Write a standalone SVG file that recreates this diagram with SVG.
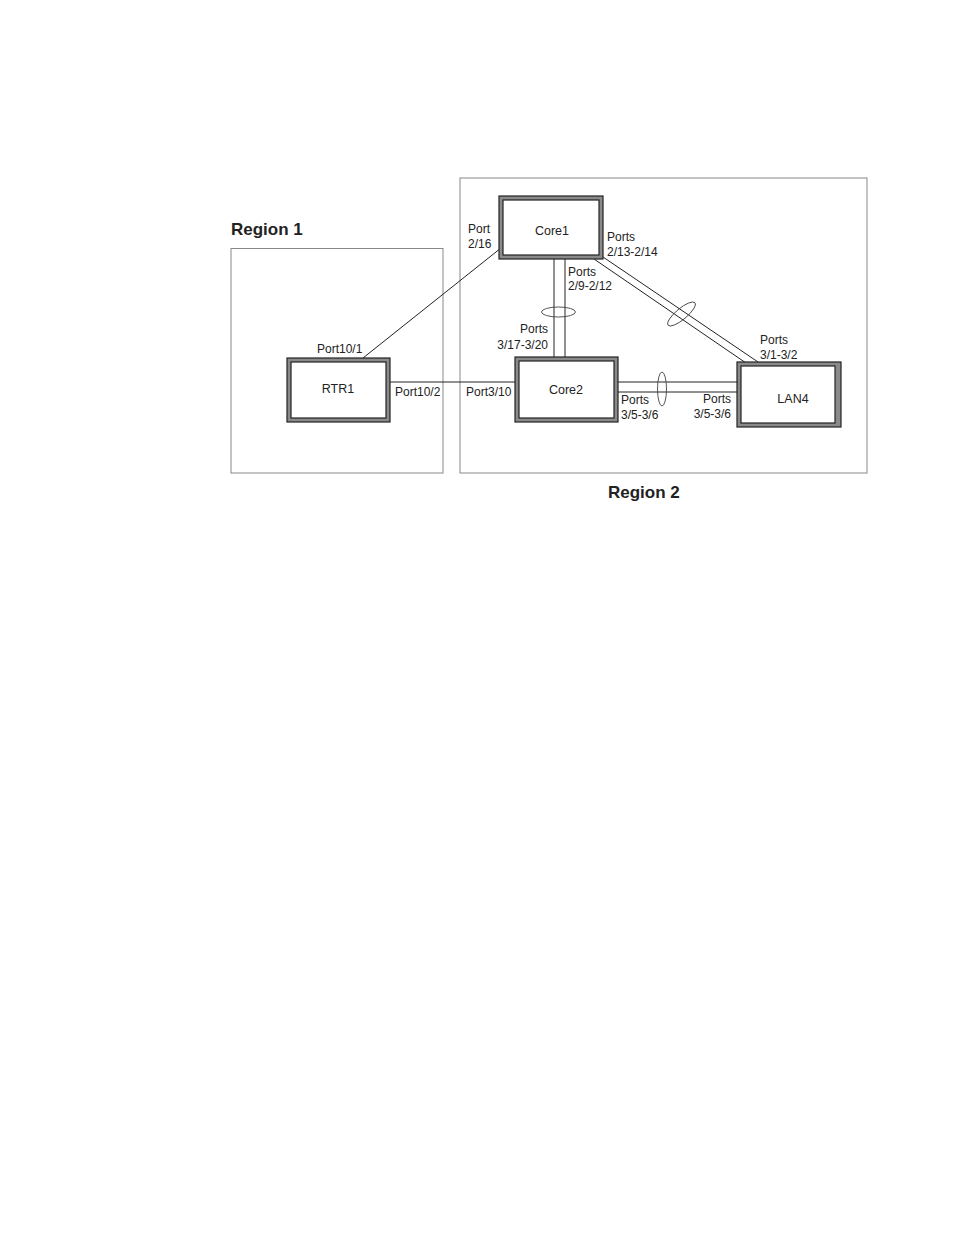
<svg xmlns="http://www.w3.org/2000/svg" width="954" height="1235" viewBox="0 0 954 1235">
<style>
.bg{fill:#fff}
.region{fill:none;stroke:#888;stroke-width:1}
.outer{fill:#8a8a8a;stroke:#222;stroke-width:1.2}
.inner{fill:#fff;stroke:#222;stroke-width:1.2}
.ln{fill:none;stroke:#222;stroke-width:1}
.ell{fill:none;stroke:#444;stroke-width:0.9}
text{font-family:"Liberation Sans",Arial,sans-serif;fill:#222}
.lbl{font-size:12px}
.nm{font-size:12.5px;text-anchor:middle}
.rg{font-size:17px;font-weight:bold}
</style>
<rect class="bg" x="0" y="0" width="954" height="1235"/>
<g id="regions">
<rect class="region" x="231" y="248.5" width="212" height="224.5"/>
<rect class="region" x="460" y="178" width="407" height="295"/>
<text class="rg" x="231" y="235">Region 1</text>
<text class="rg" x="608" y="498">Region 2</text>
</g>
<g id="connectors">
<line class="ln" x1="363" y1="358" x2="501" y2="248"/>
<line class="ln" x1="390" y1="382" x2="515" y2="382"/>
<line class="ln" x1="554" y1="259" x2="554" y2="357"/>
<line class="ln" x1="565" y1="259" x2="565" y2="357"/>
<ellipse class="ell" cx="558.5" cy="312" rx="17" ry="5"/>
<line class="ln" x1="594" y1="259" x2="746" y2="363"/>
<line class="ln" x1="603" y1="257" x2="758" y2="362"/>
<ellipse class="ell" cx="681.5" cy="314" rx="17.5" ry="5.5" transform="rotate(-40 681.5 314)"/>
<line class="ln" x1="618" y1="382" x2="737" y2="382"/>
<line class="ln" x1="618" y1="392" x2="737" y2="392"/>
<ellipse class="ell" cx="662" cy="389" rx="4.5" ry="17"/>
<text class="lbl" x="317" y="353">Port10/1</text>
<text class="lbl" x="395" y="396">Port10/2</text>
<text class="lbl" x="466" y="396">Port3/10</text>
<text class="lbl" x="468" y="233">Port</text>
<text class="lbl" x="468" y="248">2/16</text>
<text class="lbl" x="607" y="241">Ports</text>
<text class="lbl" x="607" y="256">2/13-2/14</text>
<text class="lbl" x="568" y="276">Ports</text>
<text class="lbl" x="568" y="290">2/9-2/12</text>
<text class="lbl" x="548" y="333" text-anchor="end">Ports</text>
<text class="lbl" x="548" y="349" text-anchor="end">3/17-3/20</text>
<text class="lbl" x="621" y="404">Ports</text>
<text class="lbl" x="621" y="419">3/5-3/6</text>
<text class="lbl" x="731" y="403" text-anchor="end">Ports</text>
<text class="lbl" x="731" y="418" text-anchor="end">3/5-3/6</text>
<text class="lbl" x="760" y="344">Ports</text>
<text class="lbl" x="760" y="359">3/1-3/2</text>
</g>
<g id="RTR1">
<rect class="outer" x="287" y="358" width="103" height="64"/>
<rect class="inner" x="291" y="362" width="95" height="56"/>
<text class="nm" x="338" y="393">RTR1</text>
</g>
<g id="Core1">
<rect class="outer" x="499" y="196" width="104" height="63"/>
<rect class="inner" x="503" y="200" width="96" height="55"/>
<text class="nm" x="552" y="235">Core1</text>
</g>
<g id="Core2">
<rect class="outer" x="515" y="357" width="103" height="65"/>
<rect class="inner" x="519" y="361" width="95" height="57"/>
<text class="nm" x="566" y="394">Core2</text>
</g>
<g id="LAN4">
<rect class="outer" x="737" y="362" width="104" height="65"/>
<rect class="inner" x="741" y="366" width="94" height="57"/>
<text class="nm" x="793" y="403">LAN4</text>
</g>
</svg>
